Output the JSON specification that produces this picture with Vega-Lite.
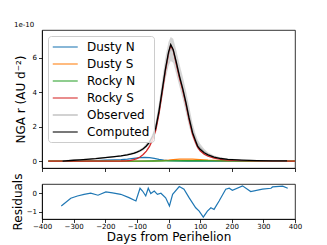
{
  "$schema": "https://vega.github.io/schema/vega-lite/v6.json",
  "padding": {"left": 10, "top": 20, "right": 5, "bottom": 2},
  "bounds": "flush",
  "spacing": 16,
  "datasets": {
    "comp": [
      {"series": "Dusty N", "day": -380, "value": 0},
      {"series": "Dusty N", "day": -330, "value": 0.005},
      {"series": "Dusty N", "day": -280, "value": 0.015},
      {"series": "Dusty N", "day": -230, "value": 0.03},
      {"series": "Dusty N", "day": -200, "value": 0.05},
      {"series": "Dusty N", "day": -170, "value": 0.07},
      {"series": "Dusty N", "day": -150, "value": 0.09},
      {"series": "Dusty N", "day": -130, "value": 0.12},
      {"series": "Dusty N", "day": -110, "value": 0.16},
      {"series": "Dusty N", "day": -90, "value": 0.2},
      {"series": "Dusty N", "day": -75, "value": 0.21},
      {"series": "Dusty N", "day": -60, "value": 0.2},
      {"series": "Dusty N", "day": -45, "value": 0.16},
      {"series": "Dusty N", "day": -30, "value": 0.1},
      {"series": "Dusty N", "day": -15, "value": 0.06},
      {"series": "Dusty N", "day": 0, "value": 0.03},
      {"series": "Dusty N", "day": 25, "value": 0.01},
      {"series": "Dusty N", "day": 60, "value": 0.003},
      {"series": "Dusty N", "day": 100, "value": 0},
      {"series": "Dusty N", "day": 400, "value": 0},
      {"series": "Dusty S", "day": -380, "value": 0},
      {"series": "Dusty S", "day": -100, "value": 0},
      {"series": "Dusty S", "day": -50, "value": 0.01},
      {"series": "Dusty S", "day": -20, "value": 0.03},
      {"series": "Dusty S", "day": 0, "value": 0.06},
      {"series": "Dusty S", "day": 15, "value": 0.09},
      {"series": "Dusty S", "day": 35, "value": 0.11},
      {"series": "Dusty S", "day": 55, "value": 0.12},
      {"series": "Dusty S", "day": 76, "value": 0.11},
      {"series": "Dusty S", "day": 100, "value": 0.09},
      {"series": "Dusty S", "day": 125, "value": 0.06},
      {"series": "Dusty S", "day": 144, "value": 0.045},
      {"series": "Dusty S", "day": 165, "value": 0.03},
      {"series": "Dusty S", "day": 187, "value": 0.02},
      {"series": "Dusty S", "day": 230, "value": 0.01},
      {"series": "Dusty S", "day": 280, "value": 0.005},
      {"series": "Dusty S", "day": 330, "value": 0},
      {"series": "Dusty S", "day": 400, "value": 0},
      {"series": "Rocky N", "day": -380, "value": 0},
      {"series": "Rocky N", "day": -100, "value": 0},
      {"series": "Rocky N", "day": -50, "value": 0.005},
      {"series": "Rocky N", "day": 0, "value": 0.01},
      {"series": "Rocky N", "day": 50, "value": 0.02},
      {"series": "Rocky N", "day": 100, "value": 0.02},
      {"series": "Rocky N", "day": 150, "value": 0.015},
      {"series": "Rocky N", "day": 200, "value": 0.01},
      {"series": "Rocky N", "day": 250, "value": 0.005},
      {"series": "Rocky N", "day": 300, "value": 0},
      {"series": "Rocky N", "day": 400, "value": 0},
      {"series": "Rocky S", "day": -380, "value": 0},
      {"series": "Rocky S", "day": -200, "value": 0},
      {"series": "Rocky S", "day": -150, "value": 0.005},
      {"series": "Rocky S", "day": -130, "value": 0.02},
      {"series": "Rocky S", "day": -120, "value": 0.04},
      {"series": "Rocky S", "day": -110, "value": 0.08},
      {"series": "Rocky S", "day": -100, "value": 0.14},
      {"series": "Rocky S", "day": -90, "value": 0.24},
      {"series": "Rocky S", "day": -80, "value": 0.38},
      {"series": "Rocky S", "day": -70, "value": 0.58},
      {"series": "Rocky S", "day": -60, "value": 0.85},
      {"series": "Rocky S", "day": -50, "value": 1.25},
      {"series": "Rocky S", "day": -40, "value": 1.8},
      {"series": "Rocky S", "day": -30, "value": 2.75},
      {"series": "Rocky S", "day": -20, "value": 3.95},
      {"series": "Rocky S", "day": -10, "value": 5.2},
      {"series": "Rocky S", "day": 0, "value": 6.2},
      {"series": "Rocky S", "day": 7, "value": 6.7},
      {"series": "Rocky S", "day": 15, "value": 6.4},
      {"series": "Rocky S", "day": 25, "value": 5.6},
      {"series": "Rocky S", "day": 35, "value": 4.8},
      {"series": "Rocky S", "day": 45, "value": 4.1},
      {"series": "Rocky S", "day": 55, "value": 3.3},
      {"series": "Rocky S", "day": 65, "value": 2.4},
      {"series": "Rocky S", "day": 76, "value": 1.55},
      {"series": "Rocky S", "day": 85, "value": 1.1},
      {"series": "Rocky S", "day": 92, "value": 0.8},
      {"series": "Rocky S", "day": 100, "value": 0.6},
      {"series": "Rocky S", "day": 113, "value": 0.4},
      {"series": "Rocky S", "day": 125, "value": 0.28},
      {"series": "Rocky S", "day": 144, "value": 0.17},
      {"series": "Rocky S", "day": 165, "value": 0.1},
      {"series": "Rocky S", "day": 187, "value": 0.06},
      {"series": "Rocky S", "day": 230, "value": 0.03},
      {"series": "Rocky S", "day": 280, "value": 0.01},
      {"series": "Rocky S", "day": 330, "value": 0.005},
      {"series": "Rocky S", "day": 375, "value": 0},
      {"series": "Rocky S", "day": 400, "value": 0},
      {"series": "Observed", "day": -335, "value": 0.01},
      {"series": "Observed", "day": -250, "value": 0.12},
      {"series": "Observed", "day": -150, "value": 0.3},
      {"series": "Observed", "day": -100, "value": 0.51},
      {"series": "Observed", "day": -80, "value": 0.71},
      {"series": "Observed", "day": -60, "value": 1.1},
      {"series": "Observed", "day": -50, "value": 1.47},
      {"series": "Observed", "day": -40, "value": 2.0},
      {"series": "Observed", "day": -30, "value": 3.0},
      {"series": "Observed", "day": -20, "value": 4.15},
      {"series": "Observed", "day": -10, "value": 5.35},
      {"series": "Observed", "day": 0, "value": 6.2},
      {"series": "Observed", "day": 7, "value": 6.5},
      {"series": "Observed", "day": 15, "value": 6.4},
      {"series": "Observed", "day": 25, "value": 5.7},
      {"series": "Observed", "day": 35, "value": 4.95},
      {"series": "Observed", "day": 45, "value": 4.25},
      {"series": "Observed", "day": 55, "value": 3.45},
      {"series": "Observed", "day": 65, "value": 2.6},
      {"series": "Observed", "day": 76, "value": 1.78},
      {"series": "Observed", "day": 85, "value": 1.28},
      {"series": "Observed", "day": 92, "value": 0.98},
      {"series": "Observed", "day": 100, "value": 0.78},
      {"series": "Observed", "day": 113, "value": 0.54},
      {"series": "Observed", "day": 125, "value": 0.39},
      {"series": "Observed", "day": 144, "value": 0.25},
      {"series": "Observed", "day": 165, "value": 0.165},
      {"series": "Observed", "day": 187, "value": 0.11},
      {"series": "Observed", "day": 230, "value": 0.06},
      {"series": "Observed", "day": 280, "value": 0.03},
      {"series": "Observed", "day": 330, "value": 0.015},
      {"series": "Observed", "day": 375, "value": 0.008},
      {"series": "Computed", "day": -335, "value": 0},
      {"series": "Computed", "day": -300, "value": 0.05},
      {"series": "Computed", "day": -280, "value": 0.07},
      {"series": "Computed", "day": -230, "value": 0.14},
      {"series": "Computed", "day": -200, "value": 0.2},
      {"series": "Computed", "day": -170, "value": 0.26},
      {"series": "Computed", "day": -150, "value": 0.3},
      {"series": "Computed", "day": -130, "value": 0.36},
      {"series": "Computed", "day": -120, "value": 0.4},
      {"series": "Computed", "day": -110, "value": 0.45},
      {"series": "Computed", "day": -100, "value": 0.52},
      {"series": "Computed", "day": -90, "value": 0.6},
      {"series": "Computed", "day": -80, "value": 0.72},
      {"series": "Computed", "day": -70, "value": 0.88},
      {"series": "Computed", "day": -60, "value": 1.1},
      {"series": "Computed", "day": -50, "value": 1.45},
      {"series": "Computed", "day": -40, "value": 1.95},
      {"series": "Computed", "day": -30, "value": 2.9},
      {"series": "Computed", "day": -20, "value": 4.1},
      {"series": "Computed", "day": -10, "value": 5.3},
      {"series": "Computed", "day": 0, "value": 6.3},
      {"series": "Computed", "day": 7, "value": 6.75},
      {"series": "Computed", "day": 15, "value": 6.45},
      {"series": "Computed", "day": 25, "value": 5.7},
      {"series": "Computed", "day": 35, "value": 4.9},
      {"series": "Computed", "day": 45, "value": 4.2},
      {"series": "Computed", "day": 55, "value": 3.4},
      {"series": "Computed", "day": 65, "value": 2.5},
      {"series": "Computed", "day": 76, "value": 1.65},
      {"series": "Computed", "day": 85, "value": 1.2},
      {"series": "Computed", "day": 92, "value": 0.87},
      {"series": "Computed", "day": 100, "value": 0.68},
      {"series": "Computed", "day": 113, "value": 0.48},
      {"series": "Computed", "day": 125, "value": 0.36},
      {"series": "Computed", "day": 144, "value": 0.23},
      {"series": "Computed", "day": 165, "value": 0.15},
      {"series": "Computed", "day": 187, "value": 0.1},
      {"series": "Computed", "day": 230, "value": 0.06},
      {"series": "Computed", "day": 280, "value": 0.03},
      {"series": "Computed", "day": 330, "value": 0.015},
      {"series": "Computed", "day": 375, "value": 0.01}
    ],
    "band": [
      {"day": -335, "lo": 0, "hi": 0.02},
      {"day": -250, "lo": 0.1, "hi": 0.14},
      {"day": -150, "lo": 0.27, "hi": 0.33},
      {"day": -100, "lo": 0.45, "hi": 0.58},
      {"day": -80, "lo": 0.62, "hi": 0.8},
      {"day": -60, "lo": 0.95, "hi": 1.25},
      {"day": -50, "lo": 1.3, "hi": 1.65},
      {"day": -40, "lo": 1.75, "hi": 2.3},
      {"day": -30, "lo": 2.6, "hi": 3.4},
      {"day": -20, "lo": 3.6, "hi": 4.7},
      {"day": -10, "lo": 4.7, "hi": 6.0},
      {"day": 0, "lo": 5.5, "hi": 6.9},
      {"day": 7, "lo": 5.8, "hi": 7.2},
      {"day": 15, "lo": 5.7, "hi": 7.1},
      {"day": 25, "lo": 5.0, "hi": 6.4},
      {"day": 35, "lo": 4.3, "hi": 5.6},
      {"day": 45, "lo": 3.6, "hi": 4.9},
      {"day": 55, "lo": 2.8, "hi": 4.1},
      {"day": 65, "lo": 2.0, "hi": 3.2},
      {"day": 76, "lo": 1.35, "hi": 2.2},
      {"day": 85, "lo": 0.95, "hi": 1.6},
      {"day": 92, "lo": 0.7, "hi": 1.25},
      {"day": 100, "lo": 0.55, "hi": 1.0},
      {"day": 113, "lo": 0.38, "hi": 0.7},
      {"day": 125, "lo": 0.28, "hi": 0.5},
      {"day": 144, "lo": 0.18, "hi": 0.32},
      {"day": 165, "lo": 0.12, "hi": 0.21},
      {"day": 187, "lo": 0.08, "hi": 0.14},
      {"day": 230, "lo": 0.04, "hi": 0.08},
      {"day": 280, "lo": 0.02, "hi": 0.04},
      {"day": 330, "lo": 0.01, "hi": 0.02},
      {"day": 375, "lo": 0, "hi": 0.015}
    ],
    "resid": [
      {"day": -339, "value": -0.69},
      {"day": -309, "value": -0.27},
      {"day": -288, "value": -0.15},
      {"day": -267, "value": -0.06},
      {"day": -246, "value": 0.0},
      {"day": -223, "value": -0.11},
      {"day": -198, "value": 0.07},
      {"day": -177, "value": 0.02},
      {"day": -151, "value": -0.06},
      {"day": -125, "value": -0.24},
      {"day": -103, "value": -0.42},
      {"day": -90, "value": 0.27},
      {"day": -82, "value": 0.12},
      {"day": -72, "value": -0.15},
      {"day": -64, "value": 0.27},
      {"day": -56, "value": -0.02},
      {"day": -45, "value": 0.12},
      {"day": -35, "value": -0.06},
      {"day": -24, "value": 0.0},
      {"day": -9, "value": -0.25},
      {"day": 3, "value": -0.69},
      {"day": 13, "value": -0.06},
      {"day": 34, "value": 0.36},
      {"day": 49, "value": 0.22},
      {"day": 65, "value": -0.24},
      {"day": 86, "value": -0.79},
      {"day": 97, "value": -0.97},
      {"day": 110, "value": -1.3},
      {"day": 123, "value": -0.97},
      {"day": 134, "value": -0.79},
      {"day": 144, "value": -0.88},
      {"day": 160, "value": -0.42},
      {"day": 181, "value": 0.22},
      {"day": 192, "value": 0.27},
      {"day": 202, "value": 0.16},
      {"day": 234, "value": 0.4},
      {"day": 260, "value": 0.09},
      {"day": 297, "value": 0.22},
      {"day": 324, "value": 0.27},
      {"day": 329, "value": 0.34},
      {"day": 361, "value": 0.38},
      {"day": 377, "value": 0.27}
    ]
  },
  "vconcat": [
    {
      "width": 253,
      "height": 138,
      "title": {"text": "1e-10", "anchor": "start", "fontSize": 7, "fontWeight": "normal", "offset": 2, "font": "DejaVu Sans", "color": "black"},
      "layer": [
        {
          "data": {"name": "band"},
          "mark": {"type": "area", "color": "#cfcfcf", "opacity": 0.85},
          "encoding": {
            "x": {"field": "day", "type": "quantitative", "scale": {"domain": [-400, 400], "nice": false}, "axis": {"values": [-400, -300, -200, -100, 0, 100, 200, 300, 400], "labels": false, "title": null}},
            "y": {"field": "lo", "type": "quantitative", "scale": {"domain": [-0.4, 7.6], "nice": false, "zero": false}, "axis": {"values": [0, 1, 2, 3, 4, 5, 6, 7], "title": "NGA r (AU d⁻²)", "titlePadding": 5}},
            "y2": {"field": "hi"}
          }
        },
        {
          "data": {"name": "comp"},
          "transform": [{"filter": "datum.series != 'Computed' && datum.series != 'Observed'"}],
          "mark": {"type": "line", "strokeWidth": 1.3},
          "encoding": {
            "x": {"field": "day", "type": "quantitative"},
            "y": {"field": "value", "type": "quantitative"},
            "color": {"field": "series", "type": "nominal", "scale": {"domain": ["Dusty N", "Dusty S", "Rocky N", "Rocky S", "Observed", "Computed"], "range": ["#1f77b4", "#ff7f0e", "#2ca02c", "#d62728", "#aaaaaa", "#000000"]}, "legend": {"title": null}}
          }
        },
        {
          "data": {"name": "comp"},
          "transform": [{"filter": "datum.series == 'Observed'"}],
          "mark": {"type": "line", "strokeWidth": 1.3, "opacity": 0.7},
          "encoding": {
            "x": {"field": "day", "type": "quantitative"},
            "y": {"field": "value", "type": "quantitative"},
            "color": {"field": "series", "type": "nominal"}
          }
        },
        {
          "data": {"name": "comp"},
          "transform": [{"filter": "datum.series == 'Computed'"}],
          "mark": {"type": "line", "strokeWidth": 1.3},
          "encoding": {
            "x": {"field": "day", "type": "quantitative"},
            "y": {"field": "value", "type": "quantitative"},
            "color": {"field": "series", "type": "nominal"}
          }
        }
      ]
    },
    {
      "width": 253,
      "height": 35,
      "data": {"name": "resid"},
      "mark": {"type": "line", "color": "#1f77b4", "strokeWidth": 1.2},
      "encoding": {
        "x": {"field": "day", "type": "quantitative", "scale": {"domain": [-400, 400], "nice": false}, "axis": {"values": [-400, -300, -200, -100, 0, 100, 200, 300, 400], "title": "Days from Perihelion", "titlePadding": 2, "labelPadding": 0}},
        "y": {"field": "value", "type": "quantitative", "scale": {"domain": [-1.4, 0.5], "nice": false, "zero": false}, "axis": {"values": [-1, 0], "title": "Residuals", "titlePadding": 2}}
      }
    }
  ],
  "config": {
    "font": "DejaVu Sans",
    "view": {"stroke": "black", "strokeWidth": 0.8},
    "axis": {"grid": false, "labelFontSize": 7, "titleFontSize": 12, "titleFontWeight": "normal", "tickSize": 3.5, "tickColor": "black", "domainColor": "black", "labelColor": "black", "titleColor": "black", "labelPadding": 2, "tickWidth": 0.8, "domainWidth": 0.8, "labelFont": "DejaVu Sans", "titleFont": "DejaVu Sans", "labelOverlap": false, "labelFlush": false, "labelBound": false},
    "legend": {"orient": "top-left", "offset": 6, "padding": 4, "fillColor": "rgba(255,255,255,0.8)", "strokeColor": "#cccccc", "cornerRadius": 3, "labelFontSize": 12, "labelFont": "DejaVu Sans", "labelColor": "black", "symbolType": "M-1,0L3,0", "symbolSize": 156, "symbolStrokeWidth": 1.5, "rowPadding": 4, "labelOffset": 21}
  }
}
